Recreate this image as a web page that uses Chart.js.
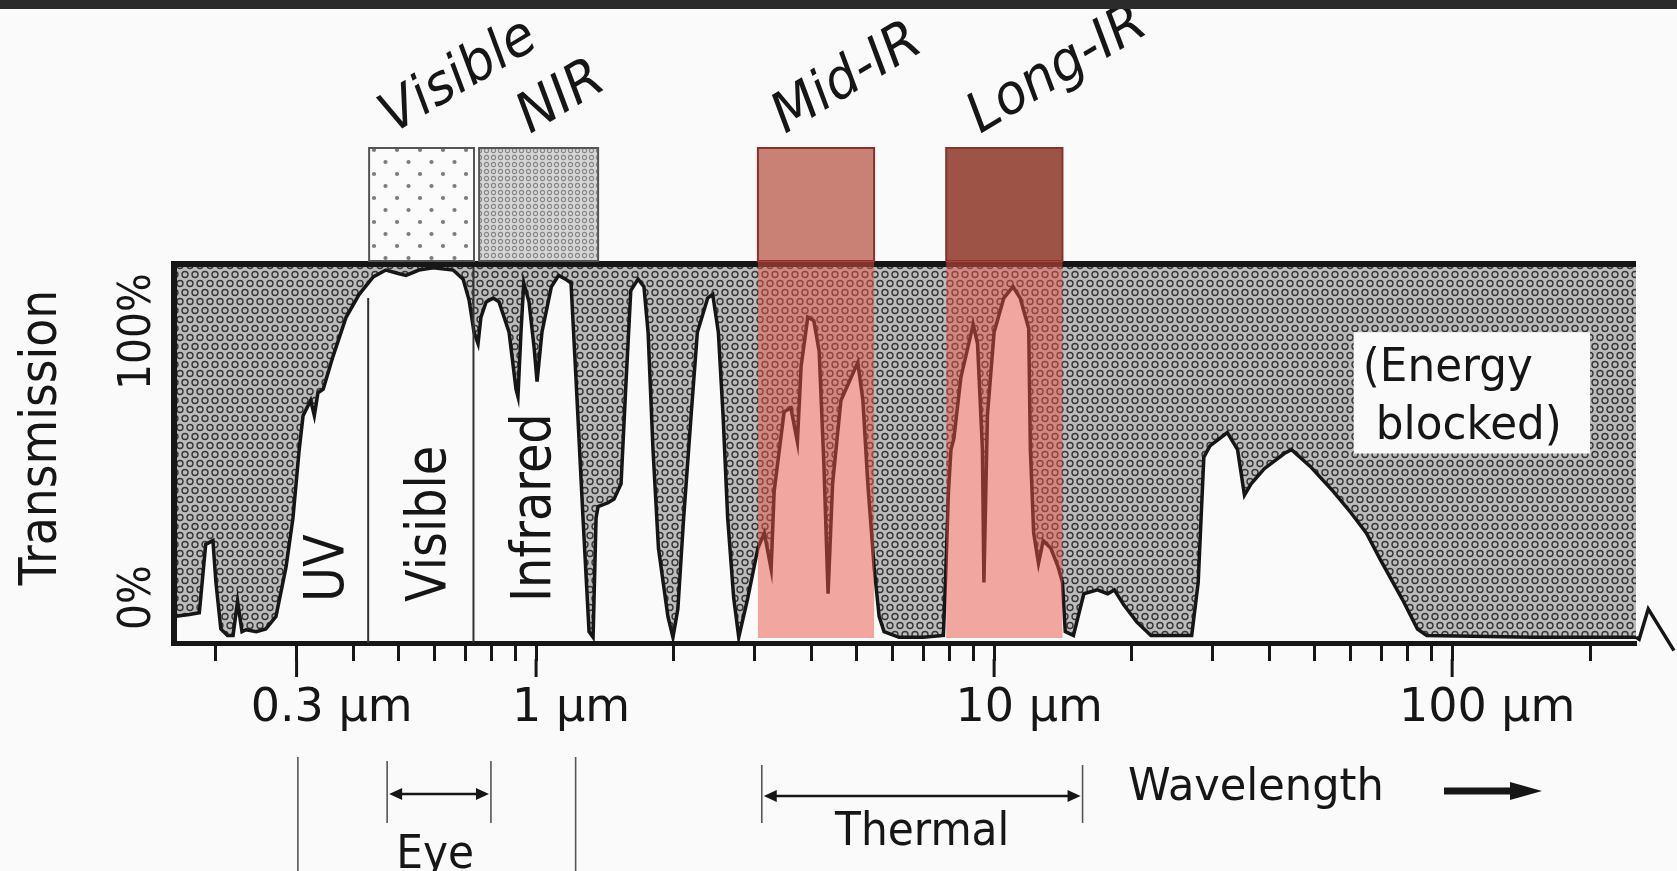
<!DOCTYPE html>
<html>
<head>
<meta charset="utf-8">
<title>Atmospheric transmission</title>
<script src="https://cdn.jsdelivr.net/npm/chart.js@4.4.1/dist/chart.umd.min.js"></script>
<style>
  html, body { margin: 0; padding: 0; background: #fafafa; }
  canvas { display: block; }
</style>
</head>
<body>
<canvas id="chart" width="1677" height="871"></canvas>
<script>
// Transmission curve (wavelength in µm, transmission in %)
const wavelength = [
  0.162, 0.175, 0.184, 0.190, 0.197, 0.200, 0.205, 0.212, 0.218, 0.223, 0.228, 0.233, 0.245, 0.257,
  0.2705, 0.2845, 0.2946, 0.304, 0.310, 0.322, 0.328, 0.334, 0.343, 0.360, 0.385, 0.411, 0.441, 0.47,
  0.50, 0.52, 0.555, 0.596, 0.659, 0.693, 0.714, 0.732, 0.747, 0.758, 0.778, 0.806, 0.83, 0.873,
  0.904, 0.913, 0.927, 0.94, 0.965, 0.99, 1.005, 1.03, 1.08, 1.12, 1.16, 1.192, 1.223, 1.266,
  1.305, 1.332, 1.352, 1.366, 1.436, 1.48, 1.533, 1.572, 1.61, 1.67, 1.72, 1.756, 1.80, 1.85,
  1.94, 1.99, 2.04, 2.10, 2.18, 2.25, 2.37, 2.43, 2.50, 2.56, 2.62, 2.70, 2.77, 2.90,
  3.05, 3.15, 3.26, 3.31, 3.48, 3.60, 3.72, 3.79, 3.92, 4.04, 4.15, 4.25, 4.34, 4.44,
  4.63, 4.87, 5.04, 5.17, 5.30, 5.47, 5.61, 5.75, 6.2, 7.0, 7.75, 7.85, 7.95, 8.05,
  8.17, 8.46, 9.0, 9.2, 9.43, 9.5, 9.67, 10.0, 10.5, 11.0, 11.4, 11.9, 12.0, 12.2,
  12.5, 12.8, 13.3, 13.8, 14.1, 14.3, 14.9, 15.7, 16.8, 17.7, 18.3, 19.2, 20.5, 22,
  27, 27.9, 28.7, 29.6, 32.3, 34, 35.2, 36.4, 38.9, 43, 44.6, 49, 55, 60,
  65, 69.7, 77.8, 84, 88, 150, 252
];
const transmission = [
  7, 7.5, 8, 26, 27, 16, 3.7, 2, 2, 11, 3, 3.5, 3, 3.7,
  7, 20, 33, 51, 60, 64, 60, 66, 67, 75.5, 86, 92, 96.6, 98.4,
  97.5, 97, 98.4, 99, 98.4, 96, 90.5, 82, 79, 86, 90, 91, 90, 82,
  67, 65, 82, 95, 90, 78, 69, 82, 94, 97, 96, 95, 69, 33,
  3, 1.5, 33, 36, 37, 38, 42, 69, 93, 96, 94, 82, 51, 25,
  7, 1.5, 9, 33, 60, 82, 91, 92, 82, 60, 33, 12, 1.5, 12,
  25, 29, 19.5, 40, 61, 62, 53, 73, 86, 85, 77, 47, 13, 42,
  64, 70, 74, 64, 42, 20, 7, 3, 1.5, 1.5, 2, 20, 40, 51,
  54, 70, 84, 79, 51, 16, 60, 82, 91, 94, 91, 83, 51, 29,
  21, 27, 25, 20, 16, 3, 2, 13, 14, 13, 14, 10, 5.5, 2,
  2, 16, 49, 52, 55.5, 51, 39, 42, 46, 50, 51, 46.6, 40, 34.5,
  29, 22, 11.6, 3.7, 2, 1.5, 1.5
];
// little bit of curve that runs past the right edge of the box
const tailWavelength = [252, 256, 268, 305];
const tailTransmission = [1.5, 1, 9, -2];

// axis ticks
const tickValues = [0.2, 0.3, 0.4, 0.5, 0.6, 0.7, 0.8, 0.9, 1, 2, 3, 4, 5, 6, 7, 8, 9,
  10, 20, 30, 40, 50, 60, 70, 80, 90, 100, 200];
const majorTicks = [0.3, 1, 10, 100];
const majorLabels = ['0.3 µm', '1 µm', '10 µm', '100 µm'];
const yTickValues = [0, 100];
const yTickLabels = ['0%', '100%'];

// bands drawn above / over the plot
const bandNames = ['Visible', 'NIR', 'Mid-IR', 'Long-IR'];
const bandStart = [0.432, 0.751, 3.05, 7.86];
const bandEnd = [0.732, 1.366, 5.47, 14.1];

// regions named inside the plot and their dividers
const regionNames = ['UV', 'Visible', 'Infrared'];
const regionAt = [0.379, 0.633, 1.07];
const dividerAt = [0.43, 0.73];
const dividerTop = [91, 100];

// marks under the axis
const guideAt = [0.302, 1.22];
const eyeRange = [0.473, 0.797];
const thermalRange = [3.11, 15.6];

const FONT = '"DejaVu Sans", Verdana, sans-serif';
const canvas = document.getElementById('chart');
const ctx = canvas.getContext('2d');

function makePattern(w, h, draw) {
  const c = document.createElement('canvas');
  c.width = w;
  c.height = h;
  draw(c.getContext('2d'));
  return ctx.createPattern(c, 'repeat');
}

// grey ring pattern for the "energy blocked" area
const blockedFill = makePattern(20, 18, g => {
  g.fillStyle = '#bcbcbc';
  g.fillRect(0, 0, 20, 18);
  g.strokeStyle = '#363636';
  g.lineWidth = 1.4;
  [[5, 4.5], [15, 4.5], [0, 13.5], [10, 13.5], [20, 13.5]].forEach(([cx, cy]) => {
    g.beginPath();
    g.arc(cx, cy, 3, 0, Math.PI * 2);
    g.stroke();
  });
});
const visibleFill = makePattern(23, 24, g => {
  g.fillStyle = '#fbfbfb';
  g.fillRect(0, 0, 23, 24);
  g.fillStyle = '#7c7c7c';
  [[6, 6], [17.5, 18]].forEach(([cx, cy]) => {
    g.beginPath();
    g.arc(cx, cy, 2.1, 0, Math.PI * 2);
    g.fill();
  });
});
const nirFill = makePattern(7, 7, g => {
  g.fillStyle = '#d6d6d6';
  g.fillRect(0, 0, 7, 7);
  g.strokeStyle = '#888';
  g.lineWidth = 1.1;
  g.beginPath();
  g.arc(3.5, 3.5, 2.1, 0, Math.PI * 2);
  g.stroke();
});

function text(str, x, y, o) {
  ctx.save();
  ctx.translate(x, y);
  if (o.rot) ctx.rotate(o.rot);
  ctx.scale(o.sx || 1, 1);
  ctx.font = (o.style || '') + ' ' + o.size + 'px ' + FONT;
  ctx.textAlign = o.align || 'left';
  ctx.textBaseline = o.base || 'alphabetic';
  ctx.fillStyle = o.color || '#161616';
  ctx.fillText(str, 0, 0);
  ctx.restore();
}

function line(x1, y1, x2, y2, w, color) {
  ctx.beginPath();
  ctx.moveTo(x1, y1);
  ctx.lineTo(x2, y2);
  ctx.lineWidth = w;
  ctx.strokeStyle = color;
  ctx.stroke();
}

function arrowHead(x, y, dir, len, half) {
  ctx.beginPath();
  ctx.moveTo(x, y);
  ctx.lineTo(x - dir * len, y - half);
  ctx.lineTo(x - dir * len, y + half);
  ctx.closePath();
  ctx.fill();
}

const decorations = {
  id: 'decorations',
  afterDraw(chart) {
    const a = chart.chartArea;
    const xs = chart.scales.x;
    const ys = chart.scales.y;
    const px = v => xs.getPixelForValue(v);
    const py = v => ys.getPixelForValue(v);
    const ink = '#161616';

    // note box inside the blocked area
    ctx.fillStyle = '#fafafa';
    ctx.fillRect(px(61), py(82), px(200) - px(61), py(50) - py(82));
    text('(Energy', px(61) + 9, py(82) + 49, { size: 46, sx: 0.95 });
    text('blocked)', px(61) + 22, py(82) + 107, { size: 46, sx: 0.95 });

    // dividers between UV / Visible / Infrared
    dividerAt.forEach((w, i) => line(px(w), py(dividerTop[i]), px(w), py(0), 2, '#333'));
    regionNames.forEach((name, i) => {
      text(name, px(regionAt[i]), py(0) - 41, { size: 55, sx: 0.87, rot: -Math.PI / 2 });
    });

    // plot frame: top and left
    line(a.left - 3, a.top, a.right, a.top, 6, ink);
    line(a.left, a.top - 3, a.left, a.bottom + 3, 6, ink);

    // boxes above the plot
    const boxTop = a.top - 116;
    const upperFill = [visibleFill, nirFill, '#c98075', '#9d5447'];
    const upperEdge = ['#555', '#555', '#84342a', '#84342a'];
    bandNames.forEach((name, i) => {
      const x0 = px(bandStart[i]);
      const x1 = px(bandEnd[i]);
      ctx.fillStyle = upperFill[i];
      ctx.fillRect(x0, boxTop, x1 - x0, a.top - 3 - boxTop);
      ctx.lineWidth = 2;
      ctx.strokeStyle = upperEdge[i];
      ctx.strokeRect(x0, boxTop, x1 - x0, a.top - 3 - boxTop);
      if (i >= 2) {
        ctx.fillStyle = 'rgba(232, 82, 68, 0.5)';
        ctx.fillRect(x0, a.top - 3, x1 - x0, py(0) - 5 - (a.top - 3));
      }
    });
    const labelDx = [24, 51, 27, 34];
    bandNames.forEach((name, i) => {
      text(name, px(bandStart[i]) + labelDx[i], a.top - 130, { size: 55, sx: 0.95, style: 'italic', rot: -31 * Math.PI / 180 });
    });

    // y labels and title
    text(yTickLabels[1], a.left - 24, py(yTickValues[1]) + 9, { size: 44, sx: 0.93, rot: -Math.PI / 2, align: 'right' });
    text(yTickLabels[0], a.left - 24, py(yTickValues[0]) - 13, { size: 44, sx: 0.93, rot: -Math.PI / 2, align: 'left' });
    text('Transmission', 56, (a.top + a.bottom) / 2 - 16, { size: 52, sx: 0.88, rot: -Math.PI / 2, align: 'center' });

    // longer marks at the labelled ticks
    majorTicks.forEach(v => line(px(v), a.bottom + 16, px(v), a.bottom + 34, 3, ink));

    // tail of the curve past the box
    ctx.beginPath();
    tailWavelength.forEach((w, i) => {
      const x = px(w);
      const y = py(tailTransmission[i]);
      if (i === 0) ctx.moveTo(x, y); else ctx.lineTo(x, y);
    });
    ctx.lineWidth = 3.5;
    ctx.strokeStyle = ink;
    ctx.stroke();

    // guide lines, Eye and Thermal ranges
    guideAt.forEach(w => line(px(w), a.bottom + 114, px(w), chart.height, 1.6, '#555'));
    [[eyeRange, 'Eye', 118, 151, 225], [thermalRange, 'Thermal', 122, 153, 202]].forEach(([r, name, top, ay, ty]) => {
      const x0 = px(r[0]);
      const x1 = px(r[1]);
      line(x0, a.bottom + top, x0, a.bottom + 180, 1.6, '#555');
      line(x1, a.bottom + top, x1, a.bottom + 180, 1.6, '#555');
      line(x0 + 6, a.bottom + ay, x1 - 6, a.bottom + ay, 2.5, ink);
      ctx.fillStyle = ink;
      arrowHead(x0 + 2, a.bottom + ay, -1, 13, 6);
      arrowHead(x1 - 2, a.bottom + ay, 1, 13, 6);
      text(name, (x0 + x1) / 2 + (name === 'Eye' ? -4 : 0), a.bottom + ty, { size: 47, sx: 0.9, align: 'center' });
    });
    text('Wavelength', 1128, a.bottom + 157, { size: 44, sx: 0.98 });
    line(1444, a.bottom + 148, 1515, a.bottom + 148, 7, ink);
    ctx.fillStyle = ink;
    arrowHead(1542, a.bottom + 148, 1, 32, 9);

    // dark strip along the top of the picture
    ctx.fillStyle = '#2b2b2b';
    ctx.fillRect(0, 0, chart.width, 9);
  }
};

new Chart(ctx, {
  type: 'line',
  data: {
    datasets: [{
      data: wavelength.map((w, i) => ({ x: w, y: transmission[i] })),
      borderColor: '#161616',
      borderWidth: 3.5,
      pointRadius: 0,
      tension: 0,
      fill: 'end',
      backgroundColor: blockedFill
    }]
  },
  options: {
    responsive: false,
    animation: false,
    events: [],
    layout: { padding: { left: 174, top: 264, right: 41, bottom: 0 } },
    plugins: { legend: { display: false }, tooltip: { enabled: false } },
    scales: {
      x: {
        type: 'logarithmic',
        min: 0.162,
        max: 252,
        afterBuildTicks: scale => { scale.ticks = tickValues.map(v => ({ value: v })); },
        afterFit: scale => { scale.height = 228; },
        grid: { drawOnChartArea: false, tickLength: 18, tickWidth: 3, tickColor: '#161616' },
        border: { display: true, width: 5, color: '#161616' },
        ticks: {
          autoSkip: false,
          maxRotation: 0,
          minRotation: 0,
          padding: 20,
          labelOffset: 35,
          color: '#161616',
          font: { family: FONT, size: 46 },
          callback: value => {
            const k = majorTicks.findIndex(m => Math.abs(m - value) < 1e-9);
            return k >= 0 ? majorLabels[k] : '';
          }
        }
      },
      y: { display: false, min: 0, max: 100 }
    }
  },
  plugins: [decorations]
});
</script>
</body>
</html>
